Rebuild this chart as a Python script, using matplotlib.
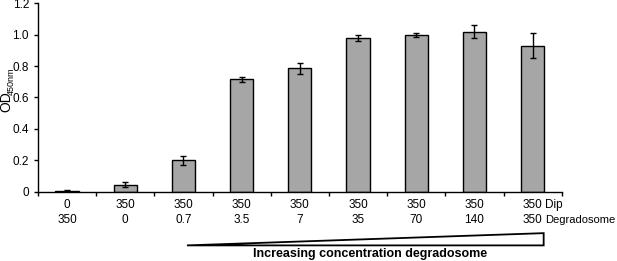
#!/usr/bin/env python3
"""Bar chart of OD450 for Dip with increasing degradosome concentration."""

import matplotlib

matplotlib.use("Agg")

import matplotlib.pyplot as plt
from matplotlib.patches import Polygon

plt.rcParams["font.family"] = ["Liberation Sans", "DejaVu Sans"]

DIP = ["0", "350", "350", "350", "350", "350", "350", "350", "350"]
DEGRADOSOME = ["350", "0", "0.7", "3.5", "7", "35", "70", "140", "350"]
OD_VALUES = [0.005, 0.045, 0.20, 0.715, 0.785, 0.98, 1.0, 1.02, 0.93]
OD_ERRORS = [0.003, 0.015, 0.03, 0.018, 0.035, 0.02, 0.013, 0.04, 0.08]
Y_TICKS = [0, 0.2, 0.4, 0.6, 0.8, 1.0, 1.2]
Y_TICK_LABELS = ["0", "0.2", "0.4", "0.6", "0.8", "1.0", "1.2"]

W, H = 617, 261


def main() -> None:
    fig = plt.figure(figsize=(W / 100, H / 100), dpi=100)
    ax = fig.add_axes([38 / W, 69.3 / H, 523.7 / W, 188.4 / H])

    x = list(range(len(OD_VALUES)))
    ax.bar(
        x,
        OD_VALUES,
        width=0.4,
        color="#a6a6a6",
        edgecolor="black",
        linewidth=1.0,
        yerr=OD_ERRORS,
        error_kw={"elinewidth": 1.0, "capsize": 2.5, "capthick": 1.0},
    )

    ax.set_xlim(-0.5, len(OD_VALUES) - 0.5)
    ax.set_ylim(0, 1.2)
    ax.set_yticks(Y_TICKS)
    ax.set_yticklabels(Y_TICK_LABELS, fontsize=8.5)
    ax.set_xticks([i - 0.5 for i in range(len(OD_VALUES) + 1)])
    ax.set_xticklabels([])
    ax.tick_params(axis="both", direction="out", length=3, width=1)

    for side in ("top", "right"):
        ax.spines[side].set_visible(False)
    for side in ("left", "bottom"):
        ax.spines[side].set_linewidth(1.0)

    # y label: "OD" with a lowered "450nm", placed in figure pixels
    fig.text(6 / W, 1 - 102 / H, "OD", rotation=90, ha="center",
             va="center", fontsize=10)
    fig.text(11 / W, 1 - 81 / H, "450nm", rotation=90, ha="center",
             va="center", fontsize=6.5)

    trans = ax.get_xaxis_transform()
    for i, (dip, deg) in enumerate(zip(DIP, DEGRADOSOME)):
        ax.text(i, -0.072, dip, transform=trans, ha="center", va="center",
                fontsize=8.5, clip_on=False)
        ax.text(i, -0.150, deg, transform=trans, ha="center", va="center",
                fontsize=8.5, clip_on=False)

    last = len(OD_VALUES) - 1
    ax.text(last + 0.22, -0.072, "Dip", transform=trans, ha="left",
            va="center", fontsize=8.5, clip_on=False)
    ax.text(last + 0.22, -0.150, "Degradosome", transform=trans, ha="left",
            va="center", fontsize=8, clip_on=False)

    wedge = Polygon(
        [(2.06, -0.285), (8.19, -0.285), (8.19, -0.22)],
        closed=True,
        fill=False,
        edgecolor="black",
        linewidth=1.3,
        transform=trans,
        clip_on=False,
    )
    ax.add_patch(wedge)

    ax.text(5.2, -0.33, "Increasing concentration degradosome", transform=trans,
            ha="center", va="center", fontsize=9, fontweight="bold",
            clip_on=False)

    fig.savefig("out.png", dpi=100)
    plt.close(fig)


if __name__ == "__main__":
    main()
